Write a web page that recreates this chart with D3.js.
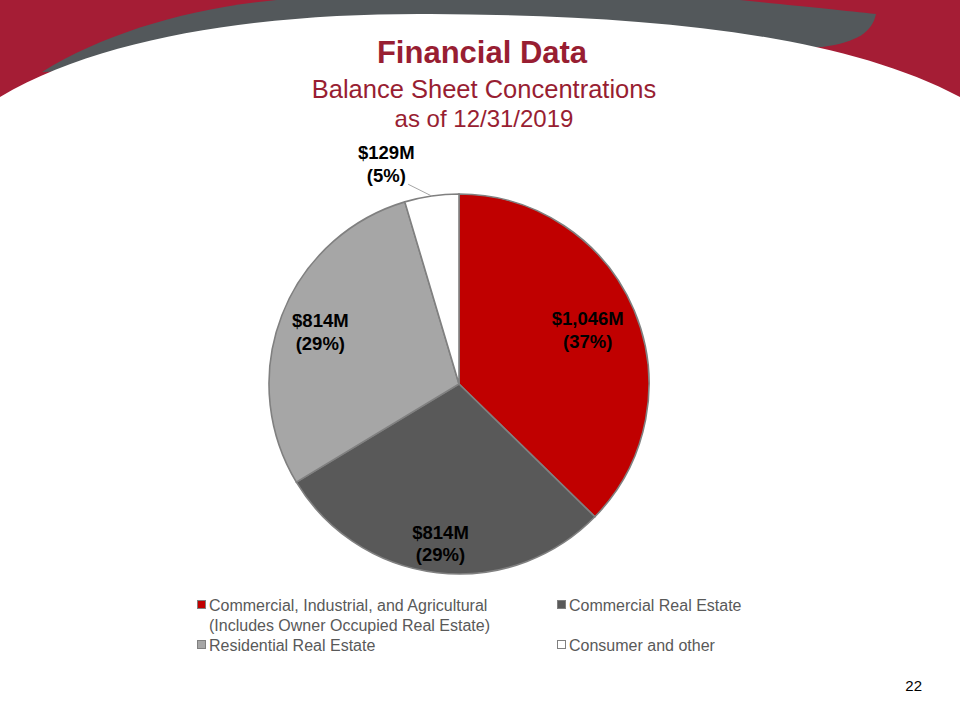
<!DOCTYPE html>
<html>
<head>
<meta charset="utf-8">
<script src="https://cdn.jsdelivr.net/npm/d3@7"></script>
<style>
  body { margin: 0; background: #fff; }
  svg { display: block; font-family: "Liberation Sans", Arial, sans-serif; }
</style>
</head>
<body>
<div id="chart"></div>
<script>
// data
const categories = ['Commercial, Industrial, and Agricultural (Includes Owner Occupied Real Estate)',
                    'Commercial Real Estate', 'Residential Real Estate', 'Consumer and other'];
const values = [1046, 814, 814, 129];
const valueLabels = ['$1,046M', '$814M', '$814M', '$129M'];
const pctLabels = ['(37%)', '(29%)', '(29%)', '(5%)'];
const legendLines = [['Commercial, Industrial, and Agricultural', '(Includes Owner Occupied Real Estate)'],
                     ['Commercial Real Estate'], ['Residential Real Estate'], ['Consumer and other']];
const sliceColors = ['#c00000', '#595959', '#a6a6a6', '#ffffff'];

const w = 960, h = 720;
const cx = 459, cy = 384, r = 190;
// label distance (as share of radius) and angle nudge in degrees, per slice
const labelRadius = [0.735, 0.845, 0.78, 1.22];
const labelNudge = [0, 0, -0.5, -10];

const svg = d3.select('#chart').append('svg').attr('width', w).attr('height', h);

// slide background: red header, grey swoosh, white body
svg.append('rect').attr('width', w).attr('height', h).attr('fill', '#fff');
svg.append('rect').attr('width', w).attr('height', 120).attr('fill', '#a51d35');
svg.append('path')
   .attr('d', 'M42,72 C110,30 200,5 300,-2 L720,-2 C790,5 840,10 876,14 C872,32 858,42 822,47 L480,60 Z')
   .attr('fill', '#53585b');
svg.append('path')
   .attr('d', 'M0,97 C110,32 280,13 430,14 C620,15 830,28 960,97 L960,720 L0,720 Z')
   .attr('fill', '#fff');

// titles
const titles = svg.append('g').attr('fill', '#981e32').attr('text-anchor', 'middle');
titles.append('text').attr('x', 482).attr('y', 63).attr('font-size', 31).attr('font-weight', 'bold').text('Financial Data');
titles.append('text').attr('x', 484).attr('y', 98).attr('font-size', 25.5).text('Balance Sheet Concentrations');
titles.append('text').attr('x', 484).attr('y', 127).attr('font-size', 24).text('as of 12/31/2019');

// pie
const pie = d3.pie().sort(null).value(d => d);
const arcs = pie(values);
const arc = d3.arc().innerRadius(0).outerRadius(r);
const g = svg.append('g').attr('transform', `translate(${cx},${cy})`);

g.selectAll('path.slice')
 .data(arcs)
 .enter()
 .append('path')
 .attr('class', 'slice')
 .attr('d', arc)
 .attr('fill', (d, i) => sliceColors[i])
 .attr('stroke', '#808080')
 .attr('stroke-width', 1.6);

function polar(a, rad) {
  return [Math.sin(a) * rad, -Math.cos(a) * rad];
}

// leader line for the small slice
const small = arcs[3];
const smallMid = (small.startAngle + small.endAngle) / 2;
const p0 = polar(smallMid, r);
const p1 = polar(smallMid - 6 * Math.PI / 180, r * 1.085);
g.append('line')
 .attr('x1', p0[0]).attr('y1', p0[1])
 .attr('x2', p1[0]).attr('y2', p1[1])
 .attr('stroke', '#a6a6a6').attr('stroke-width', 1);

// value labels
const labels = g.selectAll('text.lbl')
  .data(arcs)
  .enter()
  .append('text')
  .attr('class', 'lbl')
  .attr('text-anchor', 'middle')
  .attr('font-size', 18.5)
  .attr('font-weight', 'bold')
  .attr('fill', '#000')
  .attr('transform', (d, i) => {
    const a = (d.startAngle + d.endAngle) / 2 + labelNudge[i] * Math.PI / 180;
    const p = polar(a, r * labelRadius[i]);
    return `translate(${p[0]},${p[1]})`;
  });
labels.append('tspan').attr('x', 0).attr('y', -4.5).text((d, i) => valueLabels[i]);
labels.append('tspan').attr('x', 0).attr('y', 18).text((d, i) => pctLabels[i]);

// legend, two columns
const legendX = [197, 557];
const legendY = [611, 611, 651, 651];
const legend = svg.append('g').attr('font-size', 16).attr('fill', '#595959');
categories.forEach((c, i) => {
  const x = legendX[i % 2], y = legendY[i];
  legend.append('rect')
        .attr('x', x + 0.5).attr('y', y - 10.5)
        .attr('width', 8).attr('height', 8)
        .attr('fill', sliceColors[i])
        .attr('stroke', '#808080').attr('stroke-width', 1);
  legendLines[i].forEach((line, j) => {
    legend.append('text').attr('x', x + 12).attr('y', y + j * 20).text(line);
  });
});

// page number
svg.append('text').attr('x', 922).attr('y', 691).attr('text-anchor', 'end')
   .attr('font-size', 15).attr('fill', '#000').text('22');
</script>
</body>
</html>
